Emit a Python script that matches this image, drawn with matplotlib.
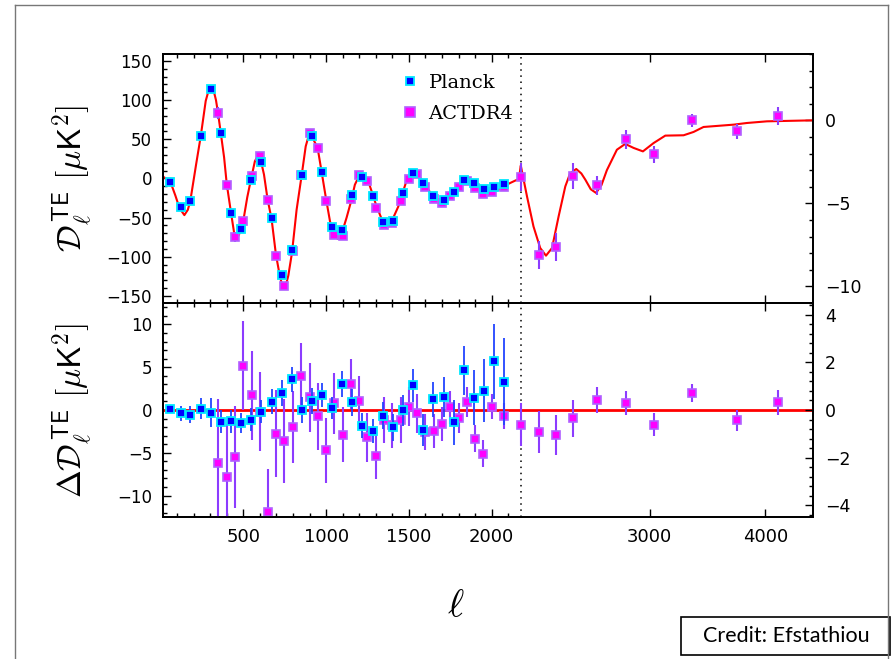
import numpy as np
import matplotlib
matplotlib.use("Agg")
import matplotlib.pyplot as plt
from matplotlib.ticker import MultipleLocator, FixedLocator, NullFormatter
from matplotlib.lines import Line2D
from matplotlib.patches import Rectangle

plt.rcParams['mathtext.fontset'] = 'cm'
plt.rcParams['font.family'] = 'DejaVu Sans'

# ---- Planck TE bandpowers (linear-ell part) ----
planck_ell = [59, 122, 180, 243, 303, 364, 426, 486, 546, 609, 671, 732, 794, 853,
              915, 975, 1036, 1096, 1158, 1219, 1281, 1342, 1402, 1462, 1523, 1583,
              1647, 1710, 1770, 1831, 1891, 1952, 2014, 2074]
planck_dl = [-4.3, -36.2, -29, 54.3, 114.3, 58.2, -44.3, -65, -2.6, 20.8, -51, -123.3,
             -91.8, 4.6, 54.8, 7.7, -62.5, -65.5, -21.3, 2, -22.6, -55.3, -54, -18.8,
             6.8, -6, -22.6, -27.3, -17.9, -1.8, -6, -13.2, -11.5, -7.7]
planck_res = [0.15, -0.4, -0.55, 0.15, -0.3, -1.37, -1.3, -1.5, -1.13, -0.2, 0.97, 2.0,
              3.6, 0.0, 1.05, 1.75, 0.2, 3.0, 0.9, -1.84, -2.46, -0.67, -2.03, -0.04,
              2.88, -2.34, 1.24, 1.52, -1.45, 4.63, 1.44, 2.26, 5.69, 3.31]
planck_err = [0.47, 0.9, 1.0, 1.25, 1.68, 1.33, 1.33, 1.2, 1.36, 1.36, 1.48, 1.56, 1.48,
              1.5, 1.5, 1.36, 1.3, 1.5, 1.56, 1.45, 1.45, 1.56, 1.6, 1.8, 1.95, 1.9,
              2.07, 2.34, 2.65, 2.9, 3.2, 3.7, 4.4, 5.1]

# ---- ACT DR4 TE bandpowers (linear-ell part, left axes) ----
act_ell = [347, 400, 450, 500, 551, 599, 647, 697, 748, 800, 850, 900, 949, 1000, 1050,
           1100, 1150, 1200, 1250, 1300, 1350, 1400, 1450, 1500, 1550, 1600, 1650, 1700,
           1750, 1800, 1850, 1900, 1950, 2000, 2075]
act_dl = [83.3, -8.9, -74.9, -54, 2.6, 29.3, -27.7, -99.5, -137.8, -92, 3.8, 57.4, 38.3,
          -29.3, -72.7, -73.2, -26.8, 4.6, -3.8, -37.9, -60, -57, -28.6, -0.5, 5.5, -10.7,
          -26.8, -31.5, -22.2, -10.7, -3.1, -12.4, -20.4, -17.5, -10.7]
act_res = [-6.2, -7.8, -5.5, 5.18, 1.7, -0.2, -11.86, -2.77, -3.6, -1.95, 3.97, 1.48,
           -0.75, -4.68, 0.77, -2.9, 3.07, 1.09, -3.2, -5.4, -1.17, -1.8, -1.17, 0.39,
           -0.39, -2.6, -2.42, -1.6, 0.3, -0.98, 0.94, -3.36, -5.1, 0.39, -0.67]
act_err = [7.5, 6.2, 6.0, 5.2, 5.2, 4.6, 5.0, 5.1, 4.9, 4.2, 3.9, 4.0, 3.9, 3.8, 3.6,
           3.2, 2.9, 2.9, 2.9, 2.7, 2.7, 2.6, 2.7, 2.3, 2.3, 2.1, 2.0, 2.0, 1.9, 1.75,
           1.7, 1.6, 1.6, 1.5, 1.5]

# ---- ACT DR4 high-ell part (right axes) ----
act_hi_ell = [2175, 2279, 2377, 2478, 2628, 2827, 3028, 3328, 3729, 4126]
act_hi_dl = [-3.43, -8.13, -7.65, -3.35, -3.92, -1.14, -2.05, 0.0, -0.66, 0.27]
act_hi_dl_err = [0.84, 0.84, 0.84, 0.8, 0.56, 0.56, 0.5, 0.4, 0.44, 0.54]
act_hi_res = [-0.62, -0.92, -1.05, -0.35, 0.42, 0.29, -0.62, 0.71, -0.44, 0.32]
act_hi_res_err = [0.91, 0.87, 0.85, 0.78, 0.55, 0.52, 0.49, 0.38, 0.44, 0.52]

# ---- best-fit theory curve ----
th_ell = [17, 40, 60, 90, 115, 144, 165, 180, 200, 215, 243, 273, 290, 300, 310, 320,
          335, 347, 364, 384, 400, 426, 445, 458, 472, 486, 500, 524, 546, 570, 593,
          608, 625, 647, 671, 697, 722, 735, 748, 760, 772, 794, 822, 853, 877, 897,
          912, 930, 949, 975, 999, 1024, 1036, 1050, 1070, 1097, 1124, 1150, 1174,
          1200, 1219, 1250, 1281, 1300, 1341, 1362, 1402, 1436, 1462, 1486, 1524,
          1550, 1585, 1600, 1646, 1677, 1705, 1750, 1768, 1800, 1829, 1850, 1890,
          1920, 1951, 1985, 2012, 2045, 2073, 2110, 2145, 2165, 2175]
th_dl = [2, -1, -4.5, -22, -38, -46.8, -40, -28.5, -2, 18, 54, 99, 112, 117, 117.5, 113,
         100, 84, 58, 27, -7, -44, -70, -76, -73, -64, -54, -24, -1.5, 22, 31, 21, 5,
         -27, -52, -97, -126, -136, -139, -134, -124, -95, -40, 4.6, 41, 56, 54, 47,
         39, 6, -25, -55, -63, -73, -77, -68.5, -50, -30, -8, 3.5, 3.8, -0.6, -20,
         -32.5, -54.6, -58, -52, -36, -18.8, -3, 3.9, 5.9, -3.7, -8, -23.8, -28,
         -29, -22.5, -17, -9.7, -5, -4, -7.4, -12, -15.5, -17, -16.5, -14, -10, -6,
         -2.5, -1, 15]
th_hi_ell = [2177, 2210, 2246, 2284, 2317, 2352, 2391, 2431, 2460, 2498, 2530, 2555,
             2590, 2624, 2660, 2696, 2764, 2822, 2881, 2949, 3028, 3118, 3263, 3345,
             3429, 3695, 3820, 4015, 4503]
th_hi_dl = [-2.77, -4.58, -6.39, -7.69, -8.15, -7.69, -5.78, -3.98, -3.2, -2.93, -3.2,
            -3.57, -4.15, -4.37, -3.9, -3.0, -1.77, -1.42, -1.66, -1.87, -1.37, -0.92,
            -0.9, -0.7, -0.4, -0.26, -0.16, -0.06, 0.0]

x_major = [500, 1000, 1500, 2000, 3000, 4000]
x_minor = [100, 200, 300, 400, 600, 700, 800, 900, 1100, 1200, 1300, 1400, 1600,
           1700, 1800, 1900, 2100]

# piecewise ell axis: linear up to the split, logarithmic above it
L_T = 2175.0
K_LOG = 2427.5


def fwd(l):
    l = np.asarray(l, dtype=float)
    return np.where(l <= L_T, l, L_T + K_LOG * np.log(np.maximum(l, L_T) / L_T))


def inv(x):
    x = np.asarray(x, dtype=float)
    return np.where(x <= L_T, x, L_T * np.exp((np.maximum(x, L_T) - L_T) / K_LOG))


fig = plt.figure(figsize=(8.95, 6.59), dpi=100)
ax1 = fig.add_axes([0.1825, 0.5402, 0.7256, 0.378])
ax2 = fig.add_axes([0.1825, 0.2155, 0.7256, 0.3247], sharex=ax1)
ax1.set_xscale('function', functions=(fwd, inv))
ax1.set_xlim(17, 4500)
axr1 = ax1.twinx()
axr2 = ax2.twinx()

planck_kw = dict(fmt='s', ms=5.2, mfc='#0000ff', mec='#00e8ff', mew=1.3,
                 ecolor='#2244ff', elinewidth=1.3, capsize=0, zorder=4)
act_kw = dict(fmt='s', ms=6.2, mfc='#ff00ff', mec='#b060ff', mew=1.2,
              ecolor='#8c3cff', elinewidth=1.5, capsize=0, zorder=3)

# top panel
ax1.plot(th_ell, th_dl, color='red', lw=1.5, zorder=2)
axr1.plot(th_hi_ell, th_hi_dl, color='red', lw=1.5, zorder=2)
ax1.errorbar(act_ell, act_dl, yerr=act_err, **act_kw)
ax1.errorbar(planck_ell, planck_dl, yerr=planck_err, **planck_kw)
axr1.errorbar(act_hi_ell, act_hi_dl, yerr=act_hi_dl_err, **act_kw)

# bottom panel
ax2.axhline(0, color='red', lw=2, zorder=2)
ax2.errorbar(act_ell, act_res, yerr=act_err, **act_kw)
ax2.errorbar(planck_ell, planck_res, yerr=planck_err, **planck_kw)
axr2.errorbar(act_hi_ell, act_hi_res, yerr=act_hi_res_err, **act_kw)

for a in (ax1, ax2):
    a.axvline(L_T, color='black', lw=1.1, ls=(0, (1, 3)), zorder=1)

ax1.set_ylim(-159, 159)
axr1.set_ylim(-11, 4)
ax2.set_ylim(-12.5, 12.5)
axr2.set_ylim(-4.5, 4.5)

for a in (ax1, ax2):
    a.xaxis.set_major_locator(FixedLocator(x_major))
    a.xaxis.set_minor_locator(FixedLocator(x_minor))
    a.xaxis.set_minor_formatter(NullFormatter())
ax1.yaxis.set_major_locator(MultipleLocator(50))
ax1.yaxis.set_minor_locator(MultipleLocator(10))
axr1.yaxis.set_major_locator(MultipleLocator(5))
axr1.yaxis.set_minor_locator(MultipleLocator(1))
ax2.yaxis.set_major_locator(MultipleLocator(5))
ax2.yaxis.set_minor_locator(MultipleLocator(1))
axr2.yaxis.set_major_locator(MultipleLocator(2))
axr2.yaxis.set_minor_locator(MultipleLocator(0.4))

for a in (ax1, ax2):
    a.tick_params(which='both', direction='in', top=True, right=False, width=1)
    a.tick_params(which='major', length=6)
    a.tick_params(which='minor', length=3)
    a.tick_params(axis='y', labelsize=12, pad=8)
    a.tick_params(axis='x', labelsize=13, pad=8)
for a in (axr1, axr2):
    a.tick_params(which='both', direction='in', width=1)
    a.tick_params(which='major', length=6)
    a.tick_params(which='minor', length=3)
    a.tick_params(axis='y', labelsize=12.5, pad=9)
ax1.tick_params(axis='x', labelbottom=False)

for a in (ax1, ax2, axr1, axr2):
    for s in a.spines.values():
        s.set_linewidth(1.3)

ax1.set_ylabel(r'$\mathcal{D}_\ell^{\,\mathsf{TE}}\ [\mu\mathsf{K}^2]$', fontsize=24)
ax2.set_ylabel(r'$\Delta\mathcal{D}_\ell^{\,\mathsf{TE}}\ [\mu\mathsf{K}^2]$', fontsize=24)
ax1.yaxis.set_label_coords(-0.105, 0.5)
ax2.yaxis.set_label_coords(-0.105, 0.5)

handles = [Line2D([], [], ls='none', marker='s', ms=5.5, mfc='#0000ff', mec='#00e8ff', mew=1.3),
           Line2D([], [], ls='none', marker='s', ms=6.5, mfc='#ff00ff', mec='#b060ff', mew=1.2)]
ax1.legend(handles, ['Planck', 'ACTDR4'], loc='upper left', bbox_to_anchor=(0.335, 0.99),
           frameon=False, prop={'family': 'DejaVu Serif', 'size': 14},
           handletextpad=0.35, handlelength=1.2, labelspacing=0.65)

fig.text(0.5095, 0.082, r'$\ell$', fontsize=28, ha='center', va='center')

# outer frame and credit box
for xs, ys in (([15.5, 15.5], [0, 653.7]), ([15.5, 888.5], [653.7, 653.7]),
               ([888.5, 888.5], [0, 653.7])):
    fig.add_artist(Line2D(np.array(xs) / 895, np.array(ys) / 659,
                          transform=fig.transFigure, color='#777777', lw=1))
fig.add_artist(Rectangle((681 / 895, 4 / 659), 209 / 895, 38 / 659,
                         transform=fig.transFigure, fc='white', ec='black', lw=1.2))
fig.text(786 / 895, 23 / 659, 'Credit: Efstathiou', fontsize=15.5, family='Lato',
         ha='center', va='center')

fig.savefig('out.png', dpi=100)
